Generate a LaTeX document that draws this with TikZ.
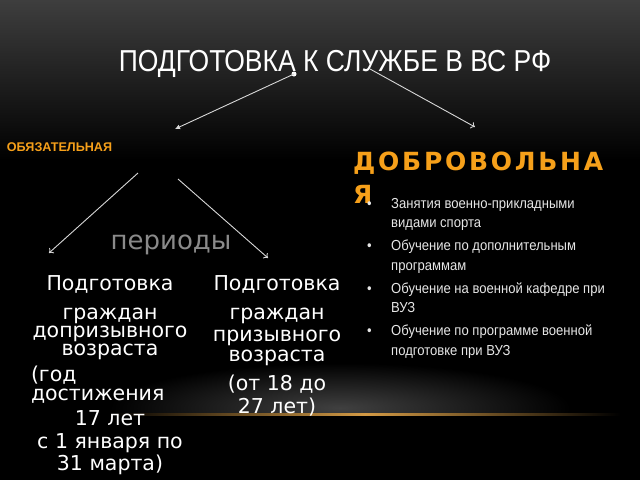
\documentclass[tikz,border=0pt]{standalone}
\usepackage{fontspec}
\setmainfont{DejaVu Sans}
\newfontfamily\titlefont[FakeStretch=0.875]{Liberation Sans}
\newfontfamily\listfont[FakeStretch=0.9]{Liberation Sans}
\newfontfamily\labelfont{Liberation Sans}
\newfontfamily\widebold[LetterSpace=11]{DejaVu Sans Bold}
\usetikzlibrary{arrows.meta}
\definecolor{bgtop}{HTML}{3E3E3E}
\definecolor{accent}{HTML}{F6A01A}
\definecolor{linkgray}{HTML}{D8D8D8}
\definecolor{periodgray}{HTML}{8A8A8A}
\definecolor{listwhite}{HTML}{E6E6E6}
\definecolor{glowline}{HTML}{D39A45}
\definecolor{haze}{HTML}{404040}
\begin{document}
\begin{tikzpicture}[x=1pt,y=-1pt,
  link/.style={draw=linkgray,line width=0.9pt,-{To[length=4pt,width=7pt]}},
  column/.style={text=white,font=\fontsize{20.5}{20}\selectfont,align=center,inner sep=0pt,anchor=north}]
  \useasboundingbox (0,0) rectangle (640,480);
  % background
  \fill[black] (0,0) rectangle (640,480);
  \shade[top color=bgtop,bottom color=black] (0,0) rectangle (640,160);
  \begin{scope}
    \clip (0,300) rectangle (640,414);
    \shade[inner color=haze,outer color=black] (340,408) ellipse [x radius=230,y radius=45];
  \end{scope}
  \shade[left color=black,right color=black,middle color=glowline] (110,413) rectangle (620,415.5);
  % title
  \node[text=white,font=\titlefont\fontsize{30.3}{30}\selectfont,anchor=base,inner sep=0pt] (title) at (335,71.7) {ПОДГОТОВКА К СЛУЖБЕ В ВС РФ};
  \fill[white] (294,74) circle [radius=2.5];
  \coordinate (dot) at (294,74);
  \coordinate (titleJ) at (370,69);
  \coordinate (oblTip) at (175,129);
  \coordinate (volTip) at (475,127);
  \draw[link,-{Latex[length=5pt,width=5pt]}] (dot) -- (oblTip);
  \draw[link] (titleJ) -- (volTip);
  % obligatory
  \node[text=accent,font=\labelfont\bfseries\fontsize{12.6}{12}\selectfont,anchor=base west,inner sep=0pt] (obligatory) at (6.7,151.7) {ОБЯЗАТЕЛЬНАЯ};
  \coordinate (oblLeft) at (138,173);
  \coordinate (oblRight) at (178,179);
  \coordinate (preTip) at (49,253);
  \coordinate (callTip) at (268,258);
  \draw[link] (oblLeft) -- (preTip);
  \draw[link] (oblRight) -- (callTip);
  \node[text=periodgray,font=\fontsize{26}{26}\selectfont,anchor=base,inner sep=0pt] (periods) at (171,249) {периоды};
  % two periods
  \node[column] (precall) at (110,275.5) {Подготовка\\[8.5pt]
    граждан\\[-2pt]
    допризывного\\[-2pt]
    возраста\\[6pt]
    \makebox[158pt][l]{(год}\\[-0.5pt]
    \makebox[158pt][l]{достижения}\\[4.5pt]
    17 лет\\[3pt]
    с 1 января по\\[2pt]
    31 марта)};
  \node[column] (call) at (277,275.5) {Подготовка\\[8.5pt]
    граждан\\[2.5pt]
    призывного\\[0pt]
    возраста\\[8.5pt]
    (от 18 до\\[3pt]
    27 лет)};
  % voluntary
  \node[text=accent,font=\widebold\fontsize{25}{33}\selectfont,align=left,anchor=base west,inner sep=0pt] (voluntary) at (353,203.3) {ДОБРОВОЛЬНА\\Я};
  \node[text=listwhite,font=\listfont\fontsize{14.5}{19.5}\selectfont,anchor=north west,inner sep=0pt] (forms) at (367,194.4) {%
    \begin{tabular}{@{}p{24pt}@{}l@{}}
      \textbullet & Занятия военно-прикладными\\
                  & видами спорта\\[3.5pt]
      \textbullet & Обучение по дополнительным\\
                  & программам\\[3.5pt]
      \textbullet & Обучение на военной кафедре при\\
                  & ВУЗ\\[3.5pt]
      \textbullet & Обучение по программе военной\\
                  & подготовке при ВУЗ
    \end{tabular}};
\end{tikzpicture}
\end{document}
